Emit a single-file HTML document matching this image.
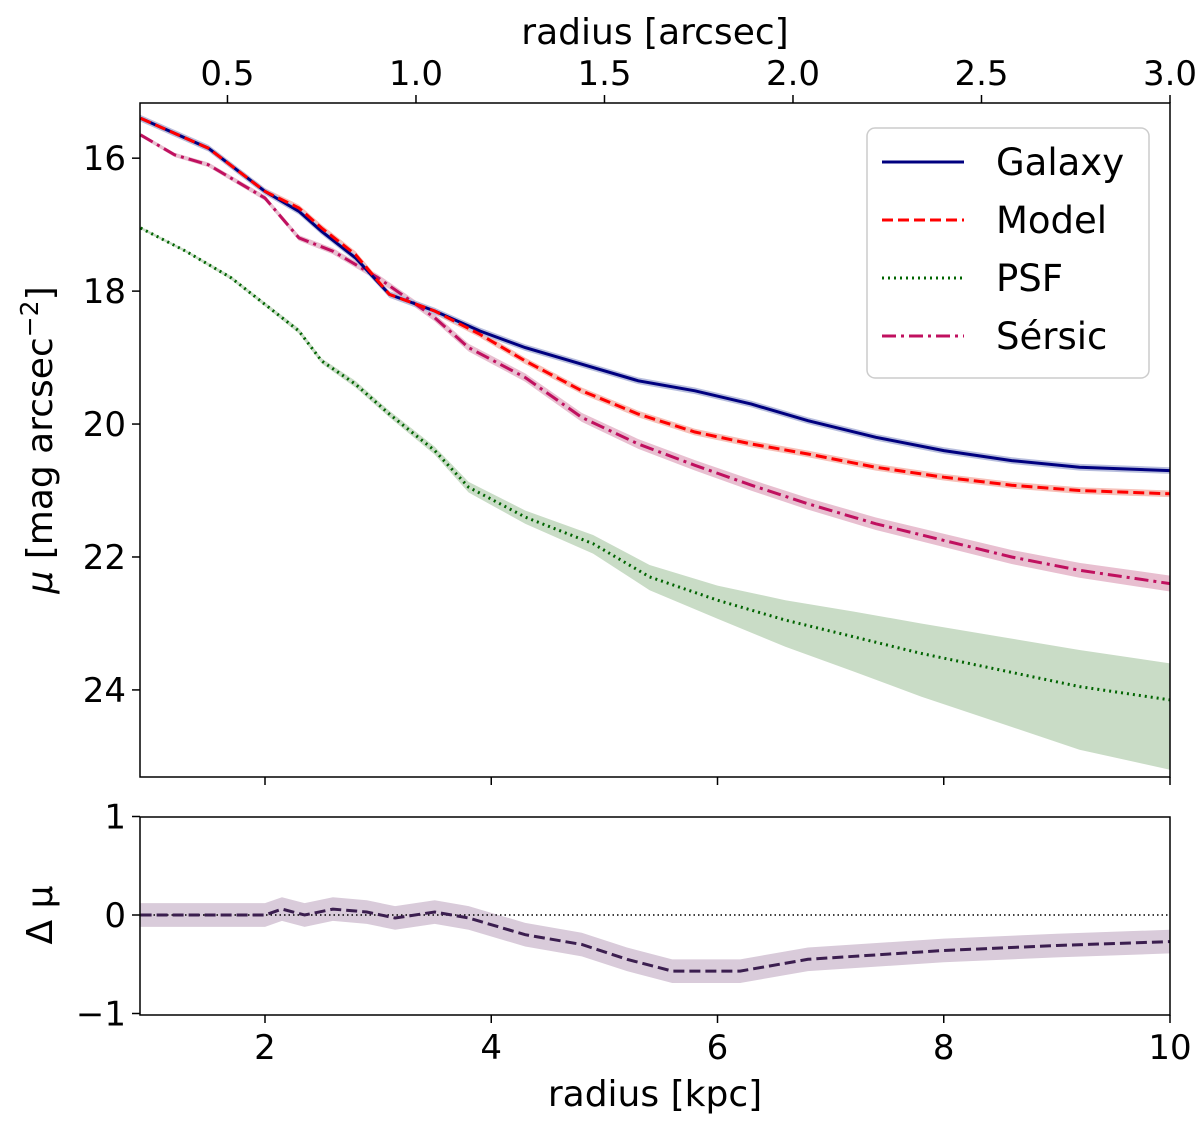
<!DOCTYPE html>
<html><head><meta charset="utf-8"><style>
body{margin:0;background:#fff}
svg text{font-family:"DejaVu Sans","Liberation Sans",sans-serif;fill:#000}
</style></head><body>
<svg id="c" width="1200" height="1121"></svg>
<script>
const galX=[0.9,1.5,2,2.3,2.5,2.8,3.1,3.5,3.9,4.3,4.8,5.3,5.8,6.3,6.8,7.4,8,8.6,9.2,10];
const galY=[15.4,15.85,16.5,16.8,17.1,17.5,18.05,18.3,18.6,18.85,19.1,19.35,19.5,19.7,19.95,20.2,20.4,20.55,20.65,20.7];
const modY=[15.4,15.85,16.5,16.75,17.05,17.45,18.05,18.3,18.65,19.05,19.5,19.85,20.12,20.3,20.45,20.65,20.8,20.92,21.0,21.05];
const serX=[0.9,1.2,1.5,2,2.3,2.6,3,3.5,3.8,4.3,4.8,5.3,5.8,6.3,6.8,7.4,8,8.6,9.2,10];
const serY=[15.65,15.95,16.1,16.6,17.2,17.4,17.8,18.4,18.85,19.3,19.9,20.3,20.62,20.92,21.2,21.5,21.75,22.0,22.2,22.4];
const psfX=[0.9,1.3,1.7,2,2.3,2.5,2.8,3.1,3.5,3.8,4.3,4.9,5.4,6,6.6,7.2,7.8,8.5,9.2,10];
const psfY=[17.05,17.4,17.8,18.2,18.6,19.05,19.4,19.85,20.4,20.95,21.4,21.8,22.3,22.65,22.95,23.2,23.45,23.7,23.95,24.15];
const psfErrUp=[0.02,0.02,0.03,0.03,0.04,0.04,0.05,0.05,0.06,0.08,0.1,0.13,0.18,0.22,0.3,0.38,0.45,0.5,0.55,0.55];
const psfErrLo=[0.02,0.02,0.03,0.03,0.04,0.04,0.05,0.05,0.06,0.08,0.1,0.15,0.2,0.28,0.4,0.52,0.65,0.8,0.95,1.05];
const dX=[0.9,1.7,2,2.15,2.35,2.6,2.9,3.15,3.5,3.8,4.3,4.8,5.2,5.6,6.2,6.8,8,9,10];
const dY=[0,0,0,0.06,0,0.06,0.03,-0.03,0.03,-0.03,-0.2,-0.3,-0.45,-0.57,-0.57,-0.45,-0.36,-0.31,-0.27];
const kpcTicks=[2,4,6,8,10];
const arcTicks=[0.5,1.0,1.5,2.0,2.5,3.0];
const muTicks=[16,18,20,22,24];
const dTicks=[1,0,-1];

const svg=document.getElementById('c');
const NS='http://www.w3.org/2000/svg';
const L=140,R=1170,T=103,B=777,T2=817,B2=1015;
const xk=k=>L+(k-0.895)*(R-L)/(10-0.895);
const xa=a=>L+(a-0.268)*(R-L)/(3.0-0.268);
const ym=m=>T+(m-15.17)*(B-T)/(25.31-15.17);
const yd=d=>915-d*98.5;
function el(t,a,name,txt){const e=document.createElementNS(NS,t);for(const k in a)e.setAttribute(k,a[k]);


if(txt!==undefined)e.textContent=txt;svg.appendChild(e);return e;}
function pts(xs,ys,fy){return xs.map((x,i)=>xk(x).toFixed(1)+','+fy(ys[i]).toFixed(1)).join(' ');}
function band2(xs,ys,eu,el_,fy){const up=xs.map((x,i)=>xk(x)+','+fy(ys[i]-eu[i]));const lo=xs.map((x,i)=>xk(x)+','+fy(ys[i]+el_[i])).reverse();return up.concat(lo).join(' ');}
function band(xs,ys,err,fy){return band2(xs,ys,err,err,fy);}
const c04=galX.map(()=>0.05);
el('polygon',{points:band2(psfX,psfY,psfErrUp,psfErrLo,ym),fill:'#c9dcc6'},'psf-error-band');
el('polygon',{points:band(serX,serY,serX.map(x=>0.02+x*0.01),ym),fill:'#e8bfd0'},'sersic-error-band');
el('polygon',{points:band(galX,modY,c04,ym),fill:'#f6c0b8'},'model-error-band');
el('polygon',{points:band(galX,galY,c04,ym),fill:'#b8bedd'},'galaxy-error-band');
el('polyline',{points:pts(psfX,psfY,ym),fill:'none',stroke:'#006400','stroke-width':3,'stroke-dasharray':'2,4'},'psf-line');
el('polyline',{points:pts(serX,serY,ym),fill:'none',stroke:'#c0105f','stroke-width':3,'stroke-dasharray':'14,5,3,5'},'sersic-line');
el('polyline',{points:pts(galX,galY,ym),fill:'none',stroke:'#00007f','stroke-width':3},'galaxy-line');
el('polyline',{points:pts(galX,modY,ym),fill:'none',stroke:'#ff0000','stroke-width':3,'stroke-dasharray':'11,5'},'model-line');
el('rect',{x:L,y:T,width:R-L,height:B-T,fill:'none',stroke:'#000','stroke-width':1.5},'main-frame');
el('rect',{x:867,y:128,width:282,height:250,rx:8,fill:'#fff','fill-opacity':0.85,stroke:'#ccc','stroke-width':1.5},'legend');
const lg=[['Galaxy','#00007f','none'],['Model','#ff0000','11,5'],['PSF','#006400','2,4'],['Sérsic','#c0105f','14,5,3,5']];
lg.forEach((g,i)=>{const y=162+i*58;
el('line',{x1:882,x2:964,y1:y,y2:y,stroke:g[1],'stroke-width':3,'stroke-dasharray':g[2]},'legend-line-'+g[0].toLowerCase());
el('text',{x:996,y:y+13,'font-size':37},'legend-label-'+g[0].toLowerCase(),g[0]);});
muTicks.forEach(m=>{el('line',{x1:L-8,x2:L,y1:ym(m),y2:ym(m),stroke:'#000','stroke-width':1.5},'y-tick');
el('text',{x:L-14,y:ym(m)+12,'font-size':34,'text-anchor':'end'},'y-tick-label',m);});
kpcTicks.forEach(k=>{el('line',{x1:xk(k),x2:xk(k),y1:B,y2:B+8,stroke:'#000','stroke-width':1.5},'main-x-tick');
el('line',{x1:xk(k),x2:xk(k),y1:B2,y2:B2+8,stroke:'#000','stroke-width':1.5},'x-tick');
el('text',{x:xk(k),y:B2+44,'font-size':34,'text-anchor':'middle'},'x-tick-label',k);});
arcTicks.forEach(a=>{el('line',{x1:xa(a),x2:xa(a),y1:T-8,y2:T,stroke:'#000','stroke-width':1.5},'top-x-tick');
el('text',{x:xa(a),y:T-18,'font-size':34,'text-anchor':'middle'},'top-x-tick-label',a.toFixed(1));});
el('text',{x:655,y:44,'font-size':36,'text-anchor':'middle'},'top-x-axis-title','radius [arcsec]');
el('text',{x:655,y:1106,'font-size':36,'text-anchor':'middle'},'x-axis-title','radius [kpc]');
const yt=el('text',{x:52,y:440,'font-size':36,'text-anchor':'middle',transform:'rotate(-90 52 440)'},'y-axis-title');
yt.innerHTML='<tspan font-style="italic">μ</tspan> [mag arcsec<tspan dy="-14" font-size="25">−2</tspan><tspan dy="14">]</tspan>';
el('polygon',{points:band(dX,dY,dX.map(()=>0.12),yd),fill:'#d9cbda'},'residual-error-band');
el('line',{x1:L,x2:R,y1:yd(0),y2:yd(0),stroke:'#000','stroke-width':1.5,'stroke-dasharray':'1.5,3'},'zero-line');
el('polyline',{points:pts(dX,dY,yd),fill:'none',stroke:'#3b1e4f','stroke-width':3,'stroke-dasharray':'11,5'},'residual-line');
el('rect',{x:L,y:T2,width:R-L,height:B2-T2,fill:'none',stroke:'#000','stroke-width':1.5},'residual-frame');
dTicks.forEach(d=>{el('line',{x1:L-8,x2:L,y1:yd(d),y2:yd(d),stroke:'#000','stroke-width':1.5},'residual-y-tick');
el('text',{x:L-14,y:yd(d)+12,'font-size':34,'text-anchor':'end'},'residual-y-tick-label',d<0?'−1':d);});
el('text',{x:52,y:915,'font-size':36,'text-anchor':'middle',transform:'rotate(-90 52 915)'},'residual-y-axis-title','Δ μ');
</script>
</body></html>
